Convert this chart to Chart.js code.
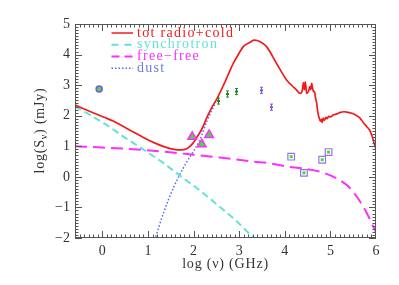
<!DOCTYPE html>
<html><head><meta charset="utf-8">
<script src="https://cdn.jsdelivr.net/npm/chart.js@4/dist/chart.umd.min.js"></script>
<style>html,body{margin:0;padding:0;background:#fff}canvas{display:block}</style>
</head><body>
<canvas id="c" width="399" height="285"></canvas>
<script>
// ---- data (log nu [GHz], log S [mJy]) ----
const totX = [-0.6,-0.4,-0.18,0.04,0.26,0.47,0.69,0.91,1.13,1.35,1.57,1.72,1.86,1.97,2.08,2.19,2.30,2.41,2.51,2.69,2.87,3.00,3.09,3.24,3.33,3.46,3.60,3.82,4.04,4.16,4.26,4.33,4.38,4.41,4.43,4.45,4.48,4.52,4.55,4.57,4.59,4.61,4.63,4.65,4.67,4.70,4.72,4.75,4.78,4.80,4.82,4.84,4.87,4.90,4.93,4.96,5.00,5.06,5.14,5.22,5.30,5.36,5.45,5.52,5.60,5.65,5.72,5.80,5.87,5.91,5.95,6.0];
const totY = [2.35,2.22,2.08,1.95,1.81,1.64,1.46,1.28,1.12,0.99,0.90,0.88,0.93,1.07,1.31,1.59,1.97,2.30,2.55,3.11,3.71,4.05,4.26,4.40,4.47,4.42,4.26,3.71,3.17,2.98,2.84,2.73,2.80,3.08,2.85,3.11,2.73,2.80,2.95,2.85,3.06,2.90,2.79,2.80,2.62,2.40,2.15,1.95,1.82,1.88,1.78,1.92,1.85,1.95,1.90,1.98,1.96,2.02,2.06,2.11,2.13,2.12,2.09,2.05,1.98,1.92,1.78,1.64,1.50,1.35,1.15,0.90];
const syncX = [-0.6,-0.3,0.04,0.47,0.91,1.35,1.72,2.16,2.55,2.89,3.29,3.45];
const syncY = [2.31,2.05,1.75,1.31,0.88,0.44,0.02,-0.47,-0.95,-1.38,-1.96,-2.2];
const ffX = [-0.6,0,0.91,1.57,2.01,2.58,3.31,3.69,4.04,4.41,4.77,5.14,5.36,5.58,5.80,5.94,6.0];
const ffY = [1.00,0.96,0.88,0.79,0.72,0.63,0.50,0.44,0.34,0.27,0.17,-0.05,-0.27,-0.65,-1.19,-1.63,-1.80];
const dustX = [1.05,1.17,1.35,1.57,1.79,1.97,2.12,2.30,2.49];
const dustY = [-2.5,-1.96,-1.14,-0.32,0.33,0.77,1.15,1.85,2.45];
const circX = [-0.07], circY = [2.87];
const triX = [1.97,2.18,2.34], triY = [1.31,1.07,1.37];
const sqX = [4.14,4.42,4.82,4.96], sqY = [0.66,0.13,0.56,0.81];
const grnX = [2.54,2.74,2.93], grnY = [2.48,2.71,2.79];
const purX = [3.48,3.70], purY = [2.83,2.28];
const errDex = 0.1;
const xTickVals = [0,1,2,3,4,5,6];
const yTickVals = [-2,-1,0,1,2,3,4,5];
const legendLabels = ['tot radio+cold','synchrotron','free\u2212free','dust'];

const RED = '#f01c1c', CYAN = '#63e3d2', MAG = '#ff2eff', BLUE = '#5568ee', BLUET = '#6a7ee0';
const GREEN = '#3ee03e', DGREEN = '#1f8a1f', PURP = '#8450e8';
const FONT = '"Liberation Serif", "Times New Roman", serif';

const pts = (xs, ys) => xs.map((x, i) => ({x, y: ys[i]}));

const boxTicks = {
  id: 'boxTicks',
  afterDraw(chart) {
    const {ctx, chartArea: a, scales: {x, y}} = chart;
    ctx.save();
    ctx.strokeStyle = '#555'; ctx.lineWidth = 1;
    ctx.strokeRect(a.left + 0.5, a.top + 0.5, a.right - a.left - 1, a.bottom - a.top - 1);
    ctx.beginPath();
    for (let i = -6; i <= 60; i++) {
      const px = Math.round(x.getPixelForValue(i / 10)) + 0.5;
      if (px < a.left || px > a.right) continue;
      const L = (i % 10 === 0) ? 7 : 3.5;
      ctx.moveTo(px, a.bottom); ctx.lineTo(px, a.bottom - L);
      ctx.moveTo(px, a.top); ctx.lineTo(px, a.top + L);
    }
    for (let i = -20; i <= 50; i++) {
      const py = Math.round(y.getPixelForValue(i / 10)) + 0.5;
      const L = (i % 10 === 0) ? 7 : 3.5;
      ctx.moveTo(a.left, py); ctx.lineTo(a.left + L, py);
      ctx.moveTo(a.right, py); ctx.lineTo(a.right - L, py);
    }
    ctx.stroke();

    // axis titles
    ctx.fillStyle = '#333';
    ctx.font = '14px ' + FONT;
    ctx.textBaseline = 'middle';
    ctx.letterSpacing = '0.8px';
    ctx.textAlign = 'center';
    ctx.fillText('log (\u03bd) (GHz)', (a.left + a.right) / 2, 264);
    // y title with subscript
    ctx.save();
    ctx.translate(40, 130.5);
    ctx.rotate(-Math.PI / 2);
    ctx.textAlign = 'left';
    const p1 = 'log(S', p2 = '\u03bd', p3 = ') (mJy)';
    ctx.font = '14px ' + FONT; const w1 = ctx.measureText(p1).width, w3 = ctx.measureText(p3).width;
    ctx.font = '10px ' + FONT; const w2 = ctx.measureText(p2).width;
    let sx = -(w1 + w2 + w3) / 2;
    ctx.font = '14px ' + FONT; ctx.fillText(p1, sx, 0); sx += w1;
    ctx.font = '10px ' + FONT; ctx.fillText(p2, sx, 4); sx += w2;
    ctx.font = '14px ' + FONT; ctx.fillText(p3, sx, 0);
    ctx.restore();

    // legend
    const styles = [[RED, [], 1.5, RED], [CYAN, [7, 6], 2, CYAN], [MAG, [8, 5], 2, MAG], [BLUE, [1.5, 2], 1.5, BLUET]];
    ctx.font = '14px ' + FONT;
    ctx.letterSpacing = '1.3px';
    ctx.textAlign = 'left';
    legendLabels.forEach((lab, i) => {
      const ly = a.top + 9 + i * 11.75;
      const [c, d, w, tc] = styles[i];
      ctx.strokeStyle = c; ctx.lineWidth = w; ctx.setLineDash(d);
      ctx.beginPath(); ctx.moveTo(111.5, ly); ctx.lineTo(133, ly); ctx.stroke();
      ctx.setLineDash([]);
      ctx.fillStyle = tc;
      ctx.fillText(lab, 137, ly);
    });
    ctx.restore();
  },
  afterDatasetsDraw(chart) {
    const {ctx, scales: {x, y}} = chart;
    ctx.save();
    const eb = (xs, ys, col) => {
      ctx.strokeStyle = col; ctx.fillStyle = col; ctx.lineWidth = 1;
      xs.forEach((v, i) => {
        const px = Math.round(x.getPixelForValue(v)) + 0.5;
        const y0 = y.getPixelForValue(ys[i] + errDex), y1 = y.getPixelForValue(ys[i] - errDex);
        ctx.beginPath();
        ctx.moveTo(px, y0); ctx.lineTo(px, y1);
        ctx.moveTo(px - 1.5, y0); ctx.lineTo(px + 1.5, y0);
        ctx.moveTo(px - 1.5, y1); ctx.lineTo(px + 1.5, y1);
        ctx.stroke();
        ctx.fillRect(px - 1.5, y.getPixelForValue(ys[i]) - 1, 3, 2);
      });
    };
    eb(grnX, grnY, DGREEN);
    eb(purX, purY, PURP);
    ctx.fillStyle = GREEN;
    sqX.forEach((v, i) => {
      const px = x.getPixelForValue(v), py = y.getPixelForValue(sqY[i]);
      ctx.fillRect(px - 1.5, py - 1.5, 3, 3);
    });
    ctx.restore();
  }
};

const lineDs = (xs, ys, extra) => Object.assign({data: pts(xs, ys), showLine: true, pointRadius: 0, cubicInterpolationMode: 'monotone'}, extra);

new Chart(document.getElementById('c'), {
  type: 'scatter',
  data: {
    datasets: [
      {data: pts(circX, circY), pointStyle: 'circle', pointRadius: 3, borderWidth: 1.5, borderColor: PURP, backgroundColor: GREEN, order: 0},
      {data: pts(triX, triY), pointStyle: 'triangle', pointRadius: 5, borderWidth: 1.5, borderColor: MAG, backgroundColor: GREEN, order: 0},
      {data: pts(sqX, sqY), pointStyle: 'rect', pointRadius: 4.7, borderWidth: 1.2, borderColor: '#a070e8', backgroundColor: '#fff', order: 0},
      lineDs(totX, totY, {borderColor: RED, borderWidth: 1.7, order: 1}),
      lineDs(syncX, syncY, {borderColor: CYAN, borderWidth: 2, borderDash: [7, 4], order: 2}),
      lineDs(ffX, ffY, {borderColor: MAG, borderWidth: 2, borderDash: [12, 6], order: 2}),
      lineDs(dustX, dustY, {borderColor: BLUE, borderWidth: 1.5, borderDash: [1.5, 2], order: 3})
    ]
  },
  options: {
    responsive: false, animation: false, devicePixelRatio: 1,
    layout: {padding: {left: 0, right: 23, top: 24, bottom: 0}},
    plugins: {legend: {display: false}, tooltip: {enabled: false}},
    scales: {
      x: {
        type: 'linear', min: -0.6, max: 6,
        grid: {display: false, drawTicks: false}, border: {display: false},
        ticks: {font: {family: FONT, size: 14}, color: '#333', padding: 5, maxRotation: 0, autoSkip: false},
        afterBuildTicks(s) { s.ticks = xTickVals.map(v => ({value: v})); },
        afterFit(s) { s.height = 47; }
      },
      y: {
        type: 'linear', min: -2, max: 5,
        grid: {display: false, drawTicks: false}, border: {display: false},
        ticks: {font: {family: FONT, size: 14}, color: '#333', padding: 5, autoSkip: false,
          callback: v => String(v).replace('-', '\u2212')},
        afterBuildTicks(s) { s.ticks = yTickVals.map(v => ({value: v})); },
        afterFit(s) { s.width = 75; }
      }
    }
  },
  plugins: [boxTicks]
});
</script>
</body></html>
